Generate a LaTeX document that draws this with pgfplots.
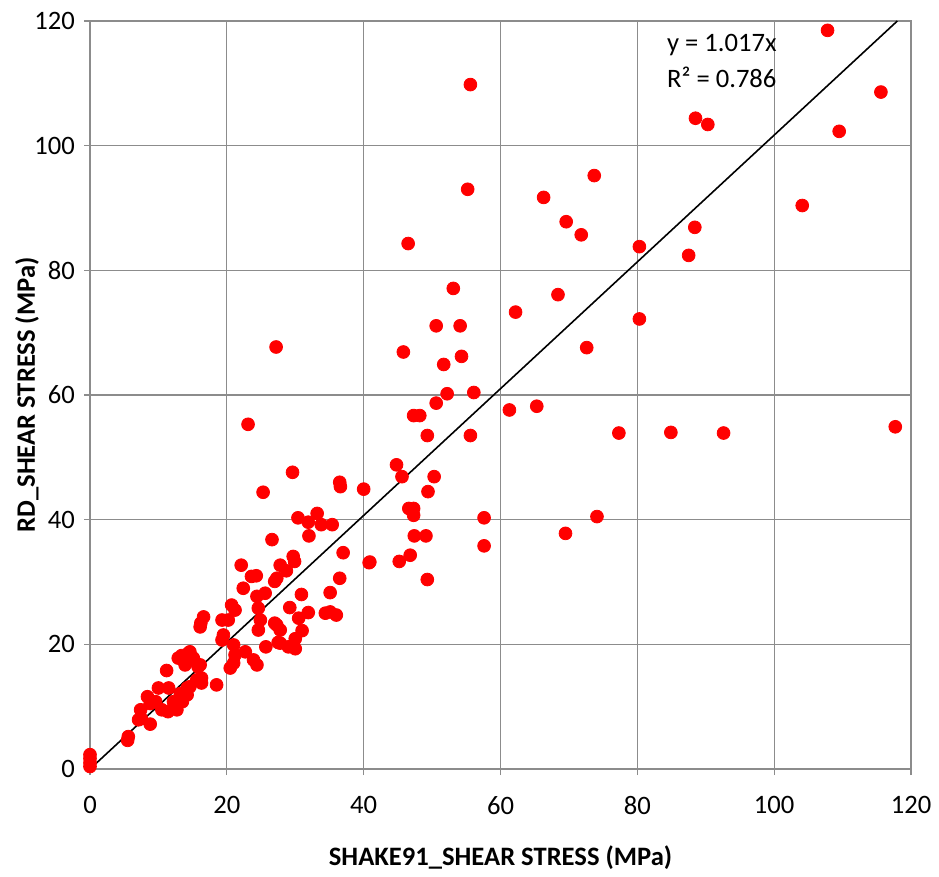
\documentclass[border=0pt]{standalone}
\usepackage{fontspec}
\setmainfont{Carlito}
\usepackage{pgfplots}
\pgfplotsset{compat=1.18}
\definecolor{gridgray}{RGB}{140,140,140}
\newcommand{\chartfont}{\fontsize{13.3pt}{16pt}\selectfont}
\begin{document}
\begin{tikzpicture}
\begin{axis}[
  scale only axis,
  width=410.5pt, height=374pt,
  xmin=0, xmax=120, ymin=0, ymax=120,
  xtick={0,20,...,120}, ytick={0,20,...,120},
  grid=major,
  major grid style={gridgray, line width=0.65pt},
  axis line style={gridgray, line width=0.65pt},
  tick style={gridgray, line width=0.65pt},
  major tick length=3pt,
  tick align=outside,
  tick pos=left,
  clip=false,
  /pgf/number format/assume math mode=true,
  ticklabel style={font=\chartfont, text=black},
  xticklabel style={yshift=-7pt},
  yticklabel style={xshift=-1pt},
  xlabel={\textbf{SHAKE91\_SHEAR STRESS (MPa)}},
  ylabel={\textbf{RD\_SHEAR STRESS (MPa)}},
  every axis x label/.style={at={(axis description cs:0.5,0)}, yshift=-44.5pt, anchor=center, font=\chartfont},
  every axis y label/.style={at={(axis description cs:0,0.5)}, xshift=-31.5pt, rotate=90, anchor=center, font=\chartfont},
]
\addplot[only marks, mark=*, mark size=3.2pt, color=red, mark options={fill=red, draw=red}] table {
x y
0 2.3
0 1.7
0 1.0
0 0.4
5.6 5.2
5.5 4.6
7.4 9.5
7.5 8.1
7.1 7.9
8.8 7.2
8.4 11.6
8.8 10.5
9.6 10.8
10.0 13.0
11.2 15.8
10.5 9.5
11.4 9.2
11.5 13.0
12.2 10.8
12.7 9.5
13.4 18.2
13.6 17.5
13.9 16.7
14.4 18.6
14.2 13.0
14.2 11.9
13.5 10.8
13.2 12.1
14.6 13.2
15.6 14.3
16.3 13.8
14.6 18.8
14.9 17.5
15.8 16.4
12.9 17.8
16.3 14.6
18.5 13.5
16.1 16.7
15.1 17.8
16.6 24.4
16.1 22.8
16.2 23.4
19.3 23.9
20.2 23.9
20.7 26.3
21.2 25.5
19.5 21.5
19.3 20.7
21.0 19.9
21.2 18.3
22.7 18.8
23.9 17.5
24.4 16.7
20.5 16.2
21.0 17.0
25.7 19.6
27.5 20.3
24.6 25.8
24.9 23.9
24.6 22.3
27.3 23.1
22.4 29.0
23.6 30.9
24.4 27.7
25.6 28.2
27.3 30.6
22.1 32.7
24.3 31.0
27.0 30.1
27.8 32.7
28.7 31.8
29.7 34.1
29.9 33.3
26.6 36.8
30.4 40.3
33.2 41.0
31.9 39.6
33.8 39.2
35.4 39.2
32.0 37.4
37.0 34.7
40.8 33.1
36.5 30.6
35.1 28.3
30.9 28.0
29.2 25.9
31.9 25.1
34.4 25.0
35.1 25.2
36.0 24.7
30.5 24.2
27.0 23.4
27.8 22.3
31.0 22.2
30.0 20.9
27.8 20.2
29.0 19.6
30.0 19.3
23.1 55.3
29.6 47.6
25.3 44.4
36.5 46.0
36.6 45.3
40.0 44.9
27.2 67.7
44.8 48.8
45.6 46.9
50.3 46.9
49.4 44.5
46.6 41.8
47.3 41.8
47.3 40.7
57.6 40.3
47.4 37.4
49.1 37.4
57.6 35.8
40.9 33.2
45.2 33.3
46.8 34.3
49.3 30.4
47.3 56.7
48.2 56.7
49.3 53.5
55.6 53.5
50.6 58.7
52.2 60.2
56.1 60.4
61.3 57.6
65.3 58.2
45.8 66.9
54.3 66.2
51.7 64.9
50.6 71.1
54.1 71.1
53.1 77.1
62.2 73.3
46.5 84.3
68.4 76.1
80.3 72.2
72.6 67.6
77.3 53.9
84.9 54.0
92.6 53.9
117.7 54.9
74.1 40.5
69.5 37.8
73.7 95.2
66.3 91.7
69.6 87.8
71.8 85.7
80.3 83.8
88.4 86.9
87.5 82.4
104.1 90.4
107.8 118.5
55.6 109.8
88.5 104.4
90.3 103.4
115.6 108.6
109.5 102.3
55.2 93.0
};
\addplot[black, line width=0.8pt] coordinates {(0,0) (118.0,120)};
\node[anchor=west, font=\chartfont, align=left, inner sep=0pt] at (axis cs:84.3,113.6) {y = 1.017x\\[2pt]R² = 0.786};
\end{axis}
\path (current axis.south west) ++(-45pt,-52.5pt) coordinate (bbsw);
\path (current axis.north east) ++(14pt,10.5pt) coordinate (bbne);
\path (bbsw) rectangle (bbne);
\end{tikzpicture}
\end{document}
